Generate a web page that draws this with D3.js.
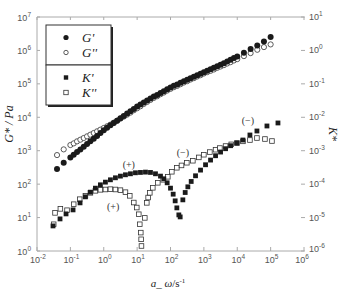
<!DOCTYPE html>
<html>
<head>
<meta charset="utf-8">
<script src="https://cdn.jsdelivr.net/npm/d3@7"></script>
<style>
  body { margin: 0; background: #fff; }
  svg { display: block; }
</style>
</head>
<body>
<div id="chart"></div>
<script>
// values, stored as [log10 a_ω, log10 value]
const gStorage = [[-1.40,2.45],[-1.20,2.64],[-1.00,2.80],[-0.90,2.88],[-0.80,2.96],[-0.70,3.04],[-0.60,3.12],[-0.50,3.20],[-0.40,3.28],[-0.30,3.36],[-0.20,3.44],[-0.10,3.53],[0.00,3.61],[0.10,3.69],[0.20,3.76],[0.30,3.83],[0.40,3.90],[0.50,3.97],[0.60,4.04],[0.70,4.11],[0.80,4.18],[0.90,4.25],[1.00,4.32],[1.10,4.38],[1.20,4.44],[1.30,4.50],[1.40,4.56],[1.50,4.62],[1.60,4.67],[1.70,4.73],[1.80,4.78],[1.90,4.84],[2.00,4.89],[2.10,4.94],[2.20,4.98],[2.30,5.03],[2.40,5.08],[2.50,5.12],[2.60,5.17],[2.70,5.21],[2.80,5.26],[2.90,5.30],[3.00,5.35],[3.10,5.39],[3.20,5.44],[3.30,5.48],[3.40,5.53],[3.50,5.57],[3.60,5.62],[3.70,5.67],[3.80,5.72],[3.90,5.77],[4.00,5.82],[4.20,5.93],[4.40,6.04],[4.60,6.15],[4.80,6.27],[5.00,6.40]];
const gLoss = [[-1.40,2.87],[-1.20,3.04],[-1.00,3.17],[-0.90,3.22],[-0.80,3.28],[-0.70,3.33],[-0.60,3.38],[-0.50,3.43],[-0.40,3.48],[-0.30,3.53],[-0.20,3.58],[-0.10,3.63],[0.00,3.68],[0.10,3.73],[0.20,3.78],[0.30,3.84],[0.40,3.90],[0.50,3.96],[0.60,4.02],[0.70,4.08],[0.80,4.14],[0.90,4.21],[1.00,4.27],[1.10,4.33],[1.20,4.40],[1.30,4.46],[1.40,4.52],[1.50,4.58],[1.60,4.63],[1.70,4.69],[1.80,4.74],[1.90,4.80],[2.00,4.85],[2.10,4.90],[2.20,4.94],[2.30,4.99],[2.40,5.04],[2.50,5.08],[2.60,5.13],[2.70,5.17],[2.80,5.22],[2.90,5.26],[3.00,5.31],[3.10,5.35],[3.20,5.39],[3.30,5.43],[3.40,5.48],[3.50,5.52],[3.60,5.56],[3.70,5.61],[3.80,5.65],[3.90,5.70],[4.00,5.74],[4.20,5.83],[4.40,5.92],[4.60,6.02],[4.80,6.10],[5.00,6.18]];
const kStorage = [[-1.52,-5.25],[-1.31,-5.04],[-1.13,-4.89],[-0.92,-4.77],[-0.71,-4.56],[-0.55,-4.38],[-0.40,-4.24],[-0.25,-4.12],[-0.10,-4.02],[0.05,-3.94],[0.20,-3.87],[0.35,-3.81],[0.50,-3.76],[0.65,-3.72],[0.80,-3.69],[0.95,-3.66],[1.10,-3.65],[1.25,-3.64],[1.40,-3.65],[1.55,-3.69],[1.70,-3.76],[1.80,-3.84],[1.90,-3.96],[2.00,-4.12],[2.08,-4.30],[2.14,-4.50],[2.19,-4.71],[2.25,-4.92],[2.29,-4.98],[2.37,-4.47],[2.44,-4.25],[2.52,-4.08],[2.62,-3.92],[2.75,-3.75],[2.90,-3.58],[3.05,-3.42],[3.20,-3.28],[3.35,-3.15],[3.50,-3.04],[3.65,-2.94],[3.80,-2.85],[3.99,-2.77],[4.17,-2.68],[4.38,-2.53],[4.59,-2.41],[4.89,-2.26],[5.22,-2.17]];
const kLoss = [[-1.50,-5.20],[-1.46,-4.86],[-1.30,-4.74],[-1.10,-4.78],[-0.90,-4.60],[-0.72,-4.45],[-0.55,-4.35],[-0.40,-4.26],[-0.25,-4.20],[-0.10,-4.17],[0.05,-4.16],[0.20,-4.15],[0.35,-4.16],[0.50,-4.18],[0.65,-4.24],[0.78,-4.35],[0.90,-4.55],[0.99,-4.70],[1.05,-4.90],[1.08,-5.20],[1.11,-5.45],[1.12,-5.65],[1.13,-5.85],[1.23,-5.01],[1.29,-4.56],[1.33,-4.40],[1.38,-4.26],[1.47,-4.11],[1.62,-3.96],[1.78,-3.87],[1.92,-3.78],[2.04,-3.63],[2.19,-3.51],[2.33,-3.44],[2.49,-3.36],[2.67,-3.30],[2.85,-3.20],[3.00,-3.12],[3.18,-3.04],[3.35,-2.97],[3.48,-2.92],[3.65,-2.86],[3.82,-2.81],[3.99,-2.77],[4.17,-2.72],[4.38,-2.68],[4.59,-2.62],[4.83,-2.65],[5.04,-2.71]];

const xExps = [-2, -1, 0, 1, 2, 3, 4, 5, 6];
const leftExps = [0, 1, 2, 3, 4, 5, 6, 7];
const rightExps = [1, 0, -1, -2, -3, -4, -5, -6];
// sign labels, placed in [log10 a_ω, log10 K] coordinates
const signs = [["(+)", 0.75, -3.43], ["(+)", 0.28, -4.68], ["(\u2212)", 2.37, -3.07], ["(\u2212)", 4.32, -2.10]];

const width = 340, height = 293;
const svg = d3.select("#chart").append("svg").attr("width", width).attr("height", height);

const x = d3.scaleLog().domain([1e-2, 1e6]).range([37, 304]);
const yL = d3.scaleLog().domain([1, 1e7]).range([251, 17]);
const yR = d3.scaleLog().domain([1e-6, 1e1]).range([251, 17]);
const p = v => Math.pow(10, v);

const axisCol = "#aaa", labCol = "#555";
const tickFont = "'Liberation Sans', Arial, sans-serif";
const serif = "'Liberation Serif', 'Times New Roman', serif";

// frame lines
svg.append("line").attr("x1", x(1e-2)).attr("x2", x(1e6)).attr("y1", yL(1e7)).attr("y2", yL(1e7)).attr("stroke", axisCol);
svg.append("line").attr("x1", x(1e-2)).attr("x2", x(1e6)).attr("y1", yL(1)).attr("y2", yL(1)).attr("stroke", axisCol);
svg.append("line").attr("x1", x(1e-2)).attr("x2", x(1e-2)).attr("y1", yL(1)).attr("y2", yL(1e7)).attr("stroke", axisCol);

function powLabel(sel, e) {
  sel.append("tspan").text("10");
  sel.append("tspan").attr("dy", -4).attr("font-size", 6.5).text(e);
}

// x ticks (top and bottom, pointing inward)
xExps.forEach(e => {
  const xp = x(p(e));
  svg.append("line").attr("x1", xp).attr("x2", xp).attr("y1", yL(1)).attr("y2", yL(1) - 4).attr("stroke", axisCol);
  svg.append("line").attr("x1", xp).attr("x2", xp).attr("y1", yL(1e7)).attr("y2", yL(1e7) + 3).attr("stroke", axisCol);
  const t = svg.append("text").attr("x", e === 6 ? xp - 2 : xp + 1).attr("y", 263).attr("text-anchor", "middle")
    .attr("font-family", tickFont).attr("font-size", 9).attr("fill", labCol);
  powLabel(t, e);
});

leftExps.forEach(e => {
  const yp = yL(p(e));
  svg.append("line").attr("x1", x(1e-2)).attr("x2", x(1e-2) + 3).attr("y1", yp).attr("y2", yp).attr("stroke", axisCol);
  const t = svg.append("text").attr("x", 31).attr("y", yp + 3.5).attr("text-anchor", "end")
    .attr("font-family", tickFont).attr("font-size", 9).attr("fill", labCol);
  powLabel(t, e);
});

rightExps.forEach(e => {
  const yp = yR(p(e));
  svg.append("line").attr("x1", 301).attr("x2", 305).attr("y1", yp).attr("y2", yp).attr("stroke", axisCol);
  const t = svg.append("text").attr("x", 309).attr("y", e === -6 ? yp + 1 : yp + 3)
    .attr("font-family", tickFont).attr("font-size", 9).attr("fill", labCol);
  powLabel(t, e);
});

// axis titles
svg.append("text").attr("transform", "translate(13,124) rotate(-90)").attr("text-anchor", "middle")
  .attr("font-family", serif).attr("font-style", "italic").attr("font-size", 12).attr("fill", "#222")
  .text("G* / Pa");
svg.append("text").attr("transform", "translate(329,134) rotate(90)").attr("text-anchor", "middle")
  .attr("font-family", serif).attr("font-style", "italic").attr("font-size", 12).attr("fill", "#222")
  .text("K*");
const xt = svg.append("text").attr("x", 168).attr("y", 287).attr("text-anchor", "middle")
  .attr("font-family", serif).attr("font-size", 11).attr("fill", "#222");
xt.append("tspan").attr("font-style", "italic").text("a_ ω");
xt.append("tspan").text("/s");
xt.append("tspan").attr("dy", -4).attr("font-size", 7).text("-1");

// data marks
const dot = (data, yScale, filled, r) => svg.append("g").selectAll("circle").data(data).join("circle")
  .attr("cx", d => x(p(d[0]))).attr("cy", d => yScale(p(d[1]))).attr("r", r)
  .attr("fill", filled ? "#1a1a1a" : "#fff").attr("stroke", filled ? "none" : "#333").attr("stroke-width", 0.8);
const sq = (data, yScale, filled, s) => svg.append("g").selectAll("rect").data(data).join("rect")
  .attr("x", d => x(p(d[0])) - s / 2).attr("y", d => yScale(p(d[1])) - s / 2).attr("width", s).attr("height", s)
  .attr("fill", filled ? "#1a1a1a" : "#fff").attr("stroke", filled ? "none" : "#333").attr("stroke-width", 0.8);

dot(gLoss, yL, false, 2.6);
dot(gStorage, yL, true, 3);
sq(kLoss, yR, false, 4.6);
sq(kStorage, yR, true, 4.8);

svg.append("g").selectAll("text").data(signs).join("text")
  .attr("x", d => x(p(d[1]))).attr("y", d => yR(p(d[2])) + 3).attr("text-anchor", "middle")
  .attr("font-family", serif).attr("font-size", 10).attr("fill", "#333").text(d => d[0]);

// legend: two stacked boxes with a drop shadow
const legend = [
  { top: 25, items: [["G'", "circle", true], ["G''", "circle", false]] },
  { top: 65, items: [["K'", "rect", true], ["K''", "rect", false]] }
];
legend.forEach(box => {
  svg.append("rect").attr("x", 48).attr("y", box.top + 2).attr("width", 65).attr("height", 40).attr("fill", "#222");
  svg.append("rect").attr("x", 46).attr("y", box.top).attr("width", 65).attr("height", 40)
    .attr("fill", "#fff").attr("stroke", "#333").attr("stroke-width", 1);
  box.items.forEach((it, i) => {
    const cy = box.top + 12.5 + i * 15;
    if (it[1] === "circle") {
      svg.append("circle").attr("cx", 66).attr("cy", cy).attr("r", it[2] ? 2.6 : 2.2)
        .attr("fill", it[2] ? "#1a1a1a" : "#fff").attr("stroke", it[2] ? "none" : "#333").attr("stroke-width", 0.8);
    } else {
      svg.append("rect").attr("x", 63.8).attr("y", cy - 2.2).attr("width", 4.4).attr("height", 4.4)
        .attr("fill", it[2] ? "#1a1a1a" : "#fff").attr("stroke", it[2] ? "none" : "#333").attr("stroke-width", 0.8);
    }
    svg.append("text").attr("x", 82).attr("y", cy + 4.5)
      .attr("font-family", serif).attr("font-style", "italic").attr("font-size", 13).attr("fill", "#222").text(it[0]);
  });
});
</script>
</body>
</html>
